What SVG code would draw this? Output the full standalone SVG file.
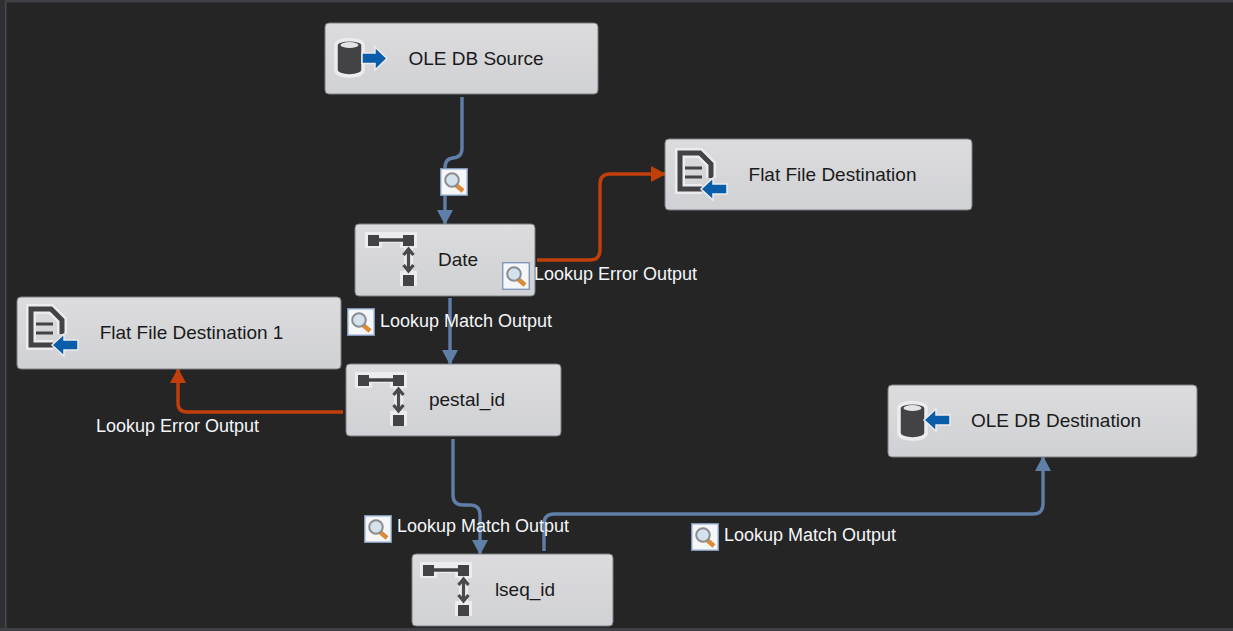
<svg xmlns="http://www.w3.org/2000/svg" width="1233" height="631" viewBox="0 0 1233 631">
<style>
.box{fill:url(#nodeFill);stroke:#7d7f83;stroke-width:1}
.name{font-family:"Liberation Sans",Arial,sans-serif;font-size:19px;fill:#1a1a1a;text-anchor:middle}
.lbl{font-family:"Liberation Sans",Arial,sans-serif;font-size:18px;fill:#f4f6fa}
.flow{fill:none;stroke:#5f7fa8;stroke-width:3.4}
.err{fill:none;stroke:#c23f0c;stroke-width:3.4}
</style>
<defs>
<linearGradient id="nodeFill" x1="0" y1="0" x2="0" y2="1"><stop offset="0" stop-color="#dcdcde"/><stop offset="1" stop-color="#d0d1d4"/></linearGradient>
<marker id="ab" markerUnits="userSpaceOnUse" markerWidth="15" markerHeight="17" refX="14" refY="8.500" orient="auto"><path d="M0,0.500L15,8.500L0,16.500Z" fill="#5f7fa8"/></marker>
<marker id="ar" markerUnits="userSpaceOnUse" markerWidth="15" markerHeight="17" refX="14" refY="8.500" orient="auto"><path d="M0,0.500L15,8.500L0,16.500Z" fill="#c23f0c"/></marker>
<symbol id="lens" width="28" height="28" viewBox="0 0 28 28" overflow="visible">
<rect x="0.7" y="0.7" width="26.6" height="26.6" fill="#f4f6f8" stroke="#7f97b8" stroke-width="1.4"/>
<path d="M16,17L23,23" stroke="#dc8a35" stroke-width="4.500"/>
<circle cx="12" cy="12" r="6.800" fill="#d3e2ec" stroke="#8b8d90" stroke-width="2"/>
</symbol>
<symbol id="xform" width="52" height="54" viewBox="0 0 52 54" overflow="visible">
<path d="M0,0H52V16H48V39H52V54H35V39H39V16H35V11H17V16H0Z" fill="#ececee"/>
<rect x="3" y="3" width="11" height="11" fill="#434345"/><rect x="38" y="3" width="11" height="11" fill="#434345"/><rect x="38" y="43" width="11" height="11" fill="#434345"/>
<path d="M14,8H38" stroke="#434345" stroke-width="3.500"/>
<path d="M43.500,18V38M38.500,23L43.500,17L48.500,23M38.500,33L43.500,39L48.500,33" stroke="#4a4a4c" stroke-width="3.200" fill="none"/>
</symbol>
<symbol id="dbOut" width="56" height="42" viewBox="0 0 56 42" overflow="visible">
<path d="M3,7C3,0 30,0 30,7V32C30,40 3,40 3,32Z" fill="#434345" stroke="#ececee" stroke-width="3.500"/>
<ellipse cx="16.500" cy="7" rx="9" ry="3" fill="#e4e4e6"/>
<path d="M29,15H42V9L54,20.500L42,32V25.500H29Z" fill="#0a5da8" stroke="#ececee" stroke-width="1.500"/>
</symbol>
<symbol id="dbIn" width="56" height="42" viewBox="0 0 56 42" overflow="visible">
<path d="M3,7C3,0 30,0 30,7V32C30,40 3,40 3,32Z" fill="#434345" stroke="#ececee" stroke-width="3.500"/>
<ellipse cx="16.500" cy="7" rx="9" ry="3" fill="#e4e4e6"/>
<path d="M54,14H40V8L28,19L40,30V24H54Z" fill="#0a5da8" stroke="#ececee" stroke-width="1.500"/>
</symbol>
<symbol id="fileIn" width="58" height="56" viewBox="0 0 58 56" overflow="visible">
<path d="M29,41H7V5H27L38,16V30" fill="none" stroke="#ececee" stroke-width="10"/>
<path d="M29,41H7V5H27L38,16V30" fill="none" stroke="#434345" stroke-width="5"/>
<path d="M12,20H29M12,29H29" stroke="#434345" stroke-width="3"/>
<path d="M54,36H40V30L28,41L40,52V46H54Z" fill="#0a5da8" stroke="#ececee" stroke-width="1.500"/>
</symbol>
</defs>
<rect width="1233" height="631" fill="#252525"/>
<rect width="1233" height="2.500" fill="#3e4045"/>
<rect y="0" width="5" height="631" fill="#2f3033"/>
<rect x="5" y="2" width="1.500" height="629" fill="#46484c"/>
<rect y="628" width="1233" height="3" fill="#3e4045"/>

<g id="connectors">
<path class="flow" marker-end="url(#ab)" d="M462,97V148Q462,158 452,158H454Q445,158 445,168V224"/>
<path class="err" marker-end="url(#ar)" d="M537,260H590Q600,260 600,250V184Q600,174 610,174H665"/>
<path class="flow" marker-end="url(#ab)" d="M450,298V364"/>
<path class="err" marker-end="url(#ar)" d="M343,412H187Q178,412 178,403V369"/>
<path class="flow" marker-end="url(#ab)" d="M453,439V495Q453,505 463,505H470Q480,505 480,515V554"/>
<path class="flow" marker-end="url(#ab)" d="M544,551V524Q544,514 554,514H1033Q1043,514 1043,504V457"/>
</g>

<g id="node-ole-db-source"><rect class="box" x="325" y="23" width="273" height="71" rx="4"/><use href="#dbOut" x="333" y="38"/><text class="name" x="476" y="64.500">OLE DB Source</text></g>
<g id="node-flat-file-destination"><rect class="box" x="665" y="139" width="307" height="71" rx="4"/><use href="#fileIn" x="673" y="148"/><text class="name" x="832.500" y="181">Flat File Destination</text></g>
<g id="node-date"><rect class="box" x="355" y="224" width="180" height="72" rx="4"/><use href="#xform" x="365" y="232"/><text class="name" x="458" y="266">Date</text></g>
<g id="node-flat-file-destination-1"><rect class="box" x="17" y="297" width="324" height="72" rx="4"/><use href="#fileIn" x="24" y="304"/><text class="name" x="191.500" y="339">Flat File Destination 1</text></g>
<g id="node-pestal-id"><rect class="box" x="346" y="364" width="215" height="72" rx="4"/><use href="#xform" x="355" y="372"/><text class="name" x="467" y="406">pestal_id</text></g>
<g id="node-ole-db-destination"><rect class="box" x="888" y="385" width="309" height="72" rx="4"/><use href="#dbIn" x="896" y="401"/><text class="name" x="1056" y="427">OLE DB Destination</text></g>
<g id="node-lseq-id"><rect class="box" x="412" y="554" width="201" height="72" rx="4"/><use href="#xform" x="420" y="562"/><text class="name" x="525" y="596">lseq_id</text></g>

<g id="connector-labels">
<use href="#lens" x="440" y="168"/>
<use href="#lens" x="502" y="262"/><text class="lbl" x="534" y="280">Lookup Error Output</text>
<use href="#lens" x="347" y="308"/><text class="lbl" x="380" y="327">Lookup Match Output</text>
<text class="lbl" x="96" y="432">Lookup Error Output</text>
<use href="#lens" x="364" y="515"/><text class="lbl" x="397" y="532">Lookup Match Output</text>
<use href="#lens" x="691" y="523"/><text class="lbl" x="724" y="541">Lookup Match Output</text>
</g>
</svg>
